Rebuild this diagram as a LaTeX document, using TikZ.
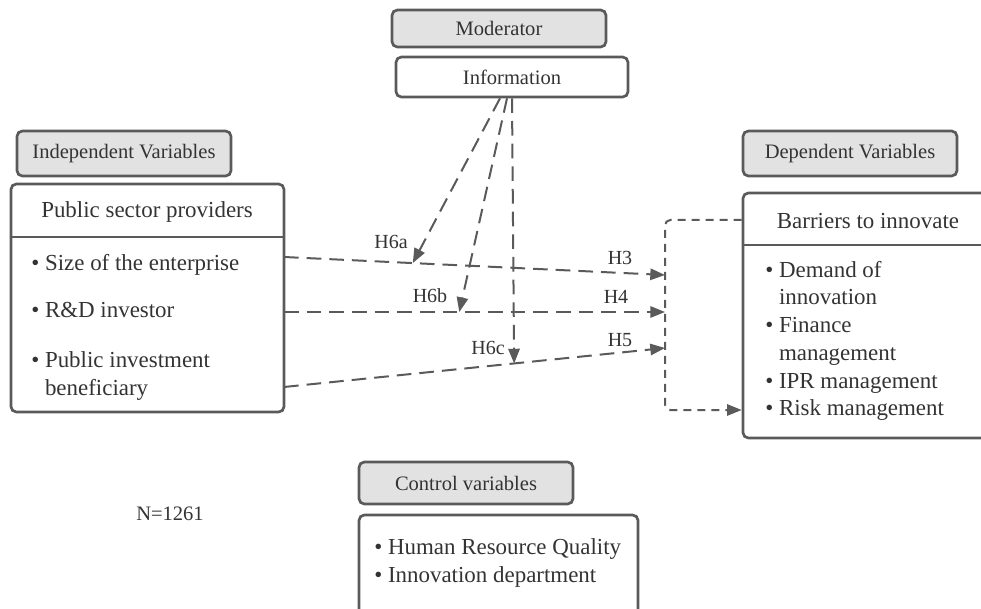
\documentclass[tikz,border=0pt]{standalone}
\usepackage{fontspec}
\setmainfont{Liberation Serif}
\usetikzlibrary{arrows.meta,fit,calc}
\definecolor{boxline}{HTML}{5A5A5A}
\definecolor{boxfill}{HTML}{E2E2E2}
\definecolor{txt}{HTML}{333333}
\newcommand{\bul}{\textbullet\ }
\newcommand{\ind}{\hphantom{\textbullet\ }}

\begin{document}
\begin{tikzpicture}[x=0.75pt,y=-0.75pt,font=\fontsize{17.2}{20.8}\selectfont,text=txt]
	\useasboundingbox (0,0) rectangle (981,609);
	\clip (0,0) rectangle (981,609);
	\tikzset{BoxStyle/.style={draw=boxline, line width=2pt, rounded corners=4pt, inner sep=0pt}}
	\tikzset{HeadStyle/.style={BoxStyle, fill=boxfill}}
	\tikzset{HeadText/.style={font=\fontsize{15.4}{18}\selectfont}}
	\tikzset{ItemStyle/.style={anchor=west, inner sep=0pt, align=left}}
	\tikzset{HypStyle/.style={draw=boxline, line width=1.5pt, dash pattern=on 11pt off 6pt,
		-{Triangle[length=11pt,width=8.5pt]}}}
	\tikzset{BrStyle/.style={draw=boxline, line width=1.5pt, dash pattern=on 6pt off 4.5pt,
		rounded corners=4pt, -{Triangle[length=11pt,width=8.5pt]}}}
	\tikzset{LabStyle/.style={inner sep=0pt, font=\fontsize{15}{18}\selectfont}}
	% moderator
	\node[HeadStyle, fit={(392,10) (606,47)}] (mod) {};
	\node[HeadText] (modtext) at (mod.center) {Moderator};
	\node[BoxStyle, fit={(396,57) (628,97)}] (info) {};
	\node[HeadText] (infotext) at (info.center) {Information};
	% independent side
	\node[HeadStyle, fit={(17,131) (231,176)}] (ivh) {};
	\node[HeadText] (ivhtext) at (ivh.center) {Independent Variables};
	\node[BoxStyle, fit={(11,184) (284,412)}] (psp) {};
	\node (psptitle) at (147,212) {Public sector providers};
	\draw[boxline, line width=2pt] (psp.west |- 0,237) -- (psp.east |- 0,237);
	\node[ItemStyle] (size) at (31,265) {\bul Size of the enterprise};
	\node[ItemStyle] (rd) at (31,310) {\bul R\&D investor};
	\node[ItemStyle] (pib) at (31,376) {\bul Public investment\\\ind beneficiary};
	% dependent side
	\node[HeadStyle, fit={(743,131) (957,176)}] (dvh) {};
	\node[HeadText] (dvhtext) at (dvh.center) {Dependent Variables};
	\node[BoxStyle, fit={(743,193) (995,438)}] (bar) {};
	\node (bartitle) at (868,221) {Barriers to innovate};
	\draw[boxline, line width=2pt] (bar.west |- 0,245) -- (bar.east |- 0,245);
	\node[ItemStyle] (items) at (765,341) {\bul Demand of\\\ind innovation\\\bul Finance\\\ind management\\\bul IPR management\\\bul Risk management};
	% control
	\node[HeadStyle, fit={(359,462) (573,504)}] (cvh) {};
	\node[HeadText] (cvhtext) at (cvh.center) {Control variables};
	\node[BoxStyle, fit={(359,515) (638,625)}] (cv) {};
	\node[ItemStyle] (cvitems) at (374,563) {\bul Human Resource Quality\\\bul Innovation department};
	\node[HeadText] (n) at (170,514) {N=1261};
	% hypotheses
	\coordinate (s3) at (284,257);
	\coordinate (s4) at (284,312);
	\coordinate (s5) at (284,387);
	\coordinate (t3) at (665,275);
	\coordinate (t4) at (665,312);
	\coordinate (t5) at (665,348);
	\draw[HypStyle] (s3) -- (t3);
	\draw[HypStyle] (s4) -- (t4);
	\draw[HypStyle] (s5) -- (t5);
	\coordinate (m6a) at ($(s3)!0.338!(t3)$);
	\coordinate (m6b) at ($(s4)!0.46!(t4)$);
	\coordinate (m6c) at ($(s5)!0.604!(t5)$);
	\coordinate (o6a) at ($(info.south)+(-12,0)$);
	\coordinate (o6b) at ($(info.south)+(-5,0)$);
	\coordinate (o6c) at (info.south);
	\draw[HypStyle] (o6a) -- (m6a);
	\draw[HypStyle] (o6b) -- (m6b);
	\draw[HypStyle] (o6c) -- (m6c);
	% bracket
	\coordinate (bk1) at (665,220);
	\coordinate (bk2) at (665,410);
	\draw[BrStyle] (bar.west |- bk1) -- (bk1) -- (bk2) -- (bar.west |- bk2);
	% labels
	\node[LabStyle] (h6a) at (391,242) {H6a};
	\node[LabStyle] (h6b) at (430,296) {H6b};
	\node[LabStyle] (h6c) at (488,348) {H6c};
	\node[LabStyle] (h3) at (620,258) {H3};
	\node[LabStyle] (h4) at (616,297) {H4};
	\node[LabStyle] (h5) at (620,340) {H5};
\end{tikzpicture}
\end{document}
